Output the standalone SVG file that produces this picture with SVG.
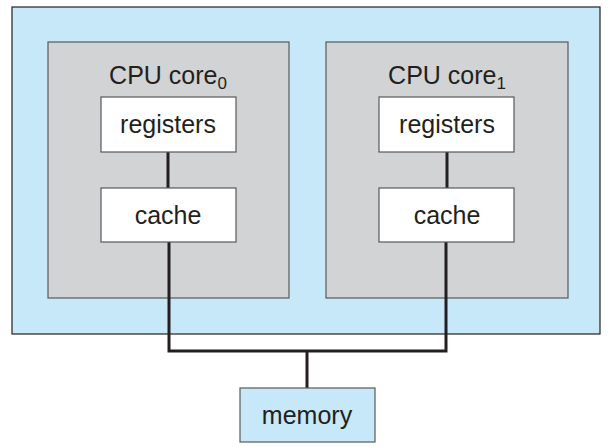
<svg xmlns="http://www.w3.org/2000/svg" width="610" height="447" viewBox="0 0 610 447">
<style>
text{font-family:"Liberation Sans",Arial,sans-serif;fill:#231f20;text-anchor:middle;font-size:25px}
.core{fill:#d1d3d4;stroke:#58595b;stroke-width:1.2}
.box{fill:#fff;stroke:#58595b;stroke-width:1.2}
.w{stroke:#231f20;stroke-width:3;fill:none}
</style>
<rect x="0" y="0" width="610" height="447" fill="#fff"/>
<g id="chip"><rect x="12" y="7" width="588" height="327" fill="#c7e8f8" stroke="#231f20" stroke-width="1.2"/></g>
<g id="core0"><rect class="core" x="48" y="42" width="241" height="256"/>
<text x="168" y="84">CPU core<tspan font-size="17" dy="5">0</tspan></text></g>
<g id="core1"><rect class="core" x="326" y="42" width="242" height="256"/>
<text x="447" y="84">CPU core<tspan font-size="17" dy="5">1</tspan></text></g>
<g id="connectors">
<path class="w" d="M168 152V188M447 152V188M169 242V351H446V242M307 351V388"/>
</g>
<g id="reg0"><rect class="box" x="101" y="97" width="135" height="55"/><text x="168" y="133">registers</text></g>
<g id="cache0"><rect class="box" x="101" y="188" width="135" height="54"/><text x="168" y="224">cache</text></g>
<g id="reg1"><rect class="box" x="379" y="97" width="135" height="55"/><text x="447" y="133">registers</text></g>
<g id="cache1"><rect class="box" x="379" y="188" width="135" height="54"/><text x="447" y="224">cache</text></g>
<g id="memory"><rect x="240" y="388" width="135" height="54" fill="#c7e8f8" stroke="#58595b" stroke-width="1.2"/><text x="307" y="424">memory</text></g>
</svg>
